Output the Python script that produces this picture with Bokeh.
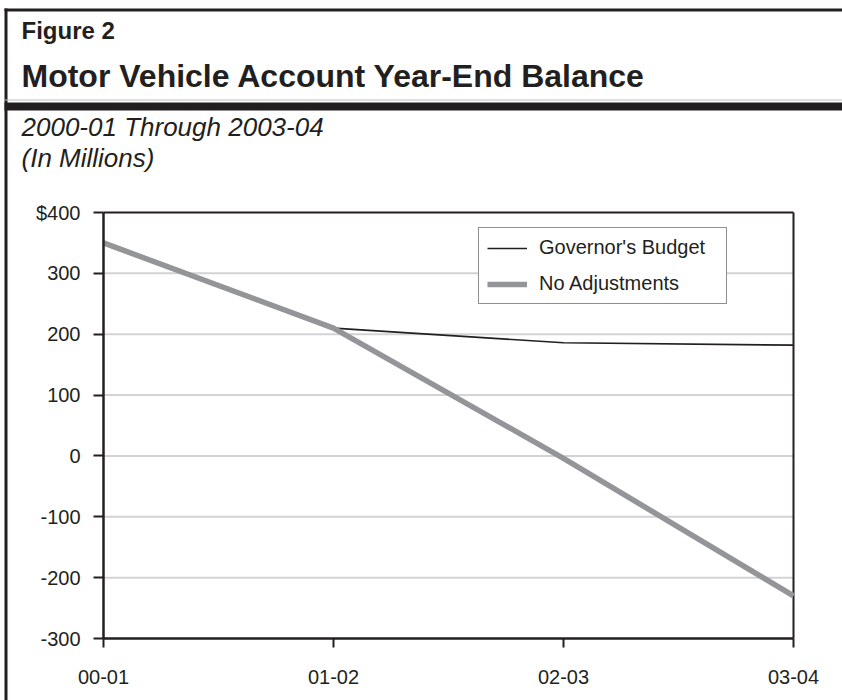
from bokeh.plotting import figure
from bokeh.models import Range1d, FixedTicker, Label, Legend, LegendItem, BoxAnnotation
from bokeh.embed import file_html
from bokeh.resources import INLINE

# ---------------- data ----------------
years = ["00-01", "01-02", "02-03", "03-04"]
governors_budget = [350, 210, 186, 182]
no_adjustments = [350, 210, -4, -230]
y_ticks = [-300, -200, -100, 0, 100, 200, 300, 400]
y_tick_labels = ["-300", "-200", "-100", "0", "100", "200", "300", "$400"]

FIG_LABEL = "Figure 2"
TITLE = "Motor Vehicle Account Year-End Balance"
SUB1 = "2000-01 Through 2003-04"
SUB2 = "(In Millions)"

# ---------------- layout (canvas pixels) ----------------
W, H = 842, 700
PL, PR, PT, PB = 103, 793, 212, 638        # plot-area box on the canvas
FONT = "Liberation Sans"
DARK = "#231f20"

x_idx = list(range(len(years)))
x_lo, x_hi = x_idx[0], x_idx[-1]
y_lo, y_hi = y_ticks[0], y_ticks[-1]

# ranges chosen so that the chart box lands on PL..PR / PT..PB while the
# frame itself covers the whole canvas (header can then be drawn in it)
xu = (x_hi - x_lo) / (PR - PL)
yu = (y_hi - y_lo) / (PB - PT)
x_range = Range1d(x_lo - PL * xu, x_hi + (W - PR) * xu)
y_range = Range1d(y_lo - (H - PB) * yu, y_hi + PT * yu)

p = figure(width=W, height=H, output_backend="svg", toolbar_location=None,
           x_range=x_range, y_range=y_range, min_border=0)
p.background_fill_color = "white"
p.border_fill_color = "white"
p.outline_line_color = None
p.grid.visible = False

# axes pinned to the chart box
p.yaxis.fixed_location = x_lo
p.xaxis.fixed_location = y_lo
p.yaxis.bounds = (y_lo, y_hi)
p.xaxis.bounds = (x_lo, x_hi)
for ax in (p.xaxis[0], p.yaxis[0]):
    ax.axis_line_color = DARK
    ax.axis_line_width = 2.5
    ax.major_tick_line_color = DARK
    ax.major_tick_line_width = 2
    ax.major_tick_in = 0
    ax.minor_tick_line_color = None
    ax.major_label_text_font = FONT
    ax.major_label_text_font_size = "20px"
    ax.major_label_text_color = DARK

p.xaxis.ticker = FixedTicker(ticks=x_idx)
p.xaxis.major_label_overrides = {i: y for i, y in zip(x_idx, years)}
p.xaxis.major_tick_out = 9
p.xaxis.major_label_standoff = 22

p.yaxis.ticker = FixedTicker(ticks=y_ticks)
p.yaxis.major_label_overrides = {t: l for t, l in zip(y_ticks, y_tick_labels)}
p.yaxis.major_tick_out = 10
p.yaxis.major_label_standoff = 13

# horizontal grid lines at the inner ticks
inner = y_ticks[1:-1]
p.segment(x0=[x_lo] * len(inner), x1=[x_hi] * len(inner), y0=inner, y1=inner,
          line_color="#d1d3d4", line_width=2)
# top and right edges of the chart box
p.segment(x0=[x_lo, x_hi], y0=[y_hi, y_lo], x1=[x_hi, x_hi], y1=[y_hi, y_hi],
          line_color=DARK, line_width=2)

# series
r_gov = p.line(x_idx, governors_budget, line_color=DARK, line_width=1.6)
r_no = p.line(x_idx, no_adjustments, line_color="#939598", line_width=5.5)

legend = Legend(items=[LegendItem(label="Governor's Budget", renderers=[r_gov]),
                       LegendItem(label="No Adjustments", renderers=[r_no])],
                location=(478, H - 304))
legend.label_text_font = FONT
legend.label_text_font_size = "20px"
legend.label_text_color = DARK
legend.border_line_color = DARK
legend.border_line_width = 1.5
legend.background_fill_color = "white"
legend.background_fill_alpha = 1
legend.padding = 8
legend.margin = 0
legend.spacing = 13
legend.glyph_width = 40
legend.glyph_height = 18
legend.label_height = 18
legend.label_standoff = 12
legend.label_width = 179
p.add_layout(legend, "center")


# ---------------- header decoration (canvas px -> screen units) ----------------
def canvas_box(x0, y0, x1, y1, color):
    return BoxAnnotation(left=x0, right=x1, top=H - y0, bottom=H - y1,
                         left_units="screen", right_units="screen",
                         top_units="screen", bottom_units="screen",
                         fill_color=color, fill_alpha=1, line_color=None,
                         line_alpha=0, level="underlay")


def canvas_label(text, cx, cy, size, style):
    return Label(x=cx, y=H - cy, x_units="screen", y_units="screen", text=text,
                 text_font=FONT, text_font_size=size, text_font_style=style,
                 text_color=DARK, text_align="left", text_baseline="alphabetic")


p.add_layout(canvas_box(4, 8, W, 11, DARK))          # top border
p.add_layout(canvas_box(4, 8, 7, H, DARK))           # left border
p.add_layout(canvas_box(4, 99, W, 100, "#bcbec0"))   # thin rule
p.add_layout(canvas_box(4, 102, W, 110, DARK))       # thick rule

p.add_layout(canvas_label(FIG_LABEL, 21, 30, "24px", "bold"))
p.add_layout(canvas_label(TITLE, 21, 75, "32px", "bold"))
p.add_layout(canvas_label(SUB1, 21, 126, "26px", "italic"))
p.add_layout(canvas_label(SUB2, 21, 157, "26px", "italic"))

open("out.html", "w").write(file_html(p, INLINE))
